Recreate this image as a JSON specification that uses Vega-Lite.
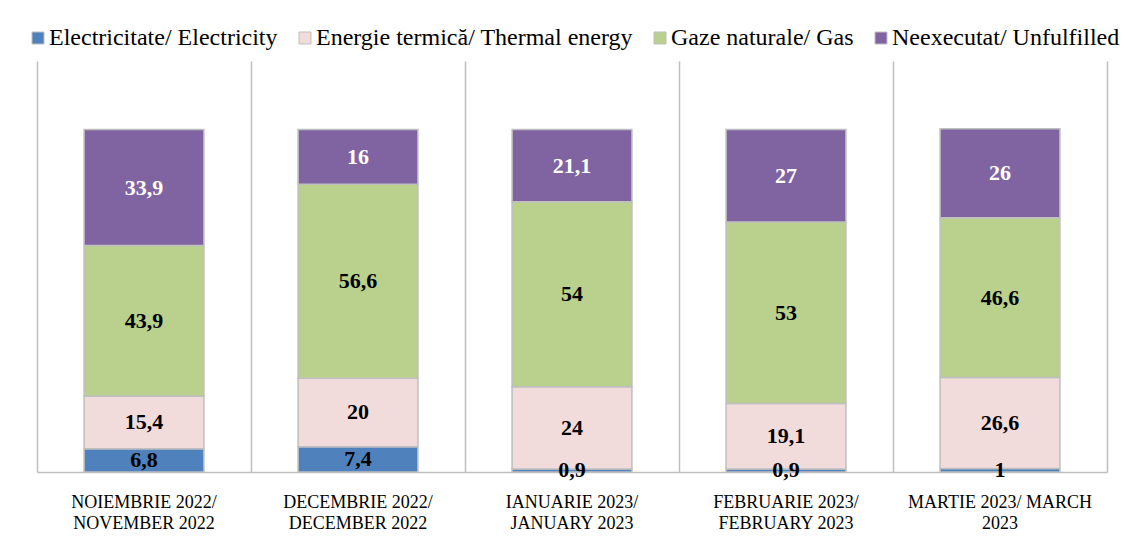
{
  "$schema": "https://vega.github.io/schema/vega-lite/v6.json",
  "width": 1070,
  "height": 411,
  "autosize": "none",
  "padding": {"left": 37, "top": 61, "right": 16, "bottom": 70},
  "background": "white",
  "config": {
    "font": "Liberation Serif, serif",
    "view": {"stroke": null},
    "legend": {"labelFont": "Liberation Serif, serif"},
    "axis": {"labelFont": "Liberation Serif, serif"},
    "locale": {"number": {"decimal": ",", "thousands": ".", "grouping": [3], "currency": ["", ""]}}
  },
  "data": {
    "values": [
      {"month": "Noiembrie 2022/|November 2022", "cat": "Electricitate/ Electricity", "v": 6.8},
      {"month": "Noiembrie 2022/|November 2022", "cat": "Energie termică/ Thermal energy", "v": 15.4},
      {"month": "Noiembrie 2022/|November 2022", "cat": "Gaze naturale/ Gas", "v": 43.9},
      {"month": "Noiembrie 2022/|November 2022", "cat": "Neexecutat/ Unfulfilled", "v": 33.9},
      {"month": "Decembrie 2022/|December 2022", "cat": "Electricitate/ Electricity", "v": 7.4},
      {"month": "Decembrie 2022/|December 2022", "cat": "Energie termică/ Thermal energy", "v": 20},
      {"month": "Decembrie 2022/|December 2022", "cat": "Gaze naturale/ Gas", "v": 56.6},
      {"month": "Decembrie 2022/|December 2022", "cat": "Neexecutat/ Unfulfilled", "v": 16},
      {"month": "Ianuarie 2023/|January 2023", "cat": "Electricitate/ Electricity", "v": 0.9},
      {"month": "Ianuarie 2023/|January 2023", "cat": "Energie termică/ Thermal energy", "v": 24},
      {"month": "Ianuarie 2023/|January 2023", "cat": "Gaze naturale/ Gas", "v": 54},
      {"month": "Ianuarie 2023/|January 2023", "cat": "Neexecutat/ Unfulfilled", "v": 21.1},
      {"month": "Februarie 2023/|February 2023", "cat": "Electricitate/ Electricity", "v": 0.9},
      {"month": "Februarie 2023/|February 2023", "cat": "Energie termică/ Thermal energy", "v": 19.1},
      {"month": "Februarie 2023/|February 2023", "cat": "Gaze naturale/ Gas", "v": 53},
      {"month": "Februarie 2023/|February 2023", "cat": "Neexecutat/ Unfulfilled", "v": 27},
      {"month": "Martie 2023/ March|2023", "cat": "Electricitate/ Electricity", "v": 1},
      {"month": "Martie 2023/ March|2023", "cat": "Energie termică/ Thermal energy", "v": 26.6},
      {"month": "Martie 2023/ March|2023", "cat": "Gaze naturale/ Gas", "v": 46.6},
      {"month": "Martie 2023/ March|2023", "cat": "Neexecutat/ Unfulfilled", "v": 26}
    ]
  },
  "encoding": {
    "x": {
      "field": "month",
      "type": "nominal",
      "sort": null,
      "scale": {"paddingInner": 0, "paddingOuter": 0},
      "axis": {
        "title": null,
        "labelAngle": 0,
        "labelExpr": "split(upper(datum.value), '|')",
        "labelFont": "Liberation Serif, serif",
        "labelFontSize": 18,
        "labelColor": "black",
        "labelLineHeight": 21,
        "labelPadding": 21,
        "labelLimit": 400,
        "labelOverlap": false,
        "ticks": false,
        "domainColor": "#BFBFBF",
        "domainWidth": 1.5,
        "grid": true,
        "bandPosition": 0,
        "gridColor": "#BFBFBF",
        "gridWidth": 1.5
      }
    }
  },
  "layer": [
    {
      "mark": {"type": "bar", "width": {"band": 0.56}, "stroke": "#BFBFBF", "strokeWidth": 1.5},
      "encoding": {
        "y": {
          "field": "v",
          "type": "quantitative",
          "stack": "zero",
          "scale": {"domain": [0, 120], "nice": false},
          "axis": {"orient": "right", "title": null, "labels": false, "ticks": false, "grid": false, "domain": true, "domainColor": "#BFBFBF", "domainWidth": 1.5}
        },
        "order": {"field": "cat", "sort": "ascending"},
        "color": {
          "field": "cat",
          "type": "nominal",
          "scale": {
            "domain": ["Electricitate/ Electricity", "Energie termică/ Thermal energy", "Gaze naturale/ Gas", "Neexecutat/ Unfulfilled"],
            "range": ["#4F81BD", "#F2DCDB", "#B9D18C", "#8064A2"]
          },
          "legend": {
            "title": null,
            "orient": "none",
            "legendX": -11,
            "legendY": -35,
            "direction": "horizontal",
            "columns": 4,
            "columnPadding": 15,
            "symbolType": "square",
            "symbolSize": 144,
            "symbolStrokeColor": "#BFBFBF",
            "symbolStrokeWidth": 1,
            "symbolOffset": 0,
            "labelFont": "Liberation Serif, serif",
            "labelFontSize": 24,
            "labelColor": "black",
            "labelOffset": -1,
            "labelLimit": 500
          }
        }
      }
    },
    {
      "transform": [
        {"stack": "v", "groupby": ["month"], "sort": [{"field": "cat", "order": "ascending"}], "as": ["y0", "y1"]},
        {"calculate": "(datum.y0 + datum.y1) / 2", "as": "ym"}
      ],
      "mark": {"type": "text", "font": "Liberation Serif, serif", "fontWeight": "bold", "fontSize": 22, "baseline": "middle", "align": "center"},
      "encoding": {
        "y": {"field": "ym", "type": "quantitative"},
        "text": {"field": "v", "type": "quantitative", "format": ".1~f"},
        "color": {
          "condition": {"test": "datum.cat === 'Neexecutat/ Unfulfilled'", "value": "white"},
          "value": "black"
        }
      }
    }
  ]
}
